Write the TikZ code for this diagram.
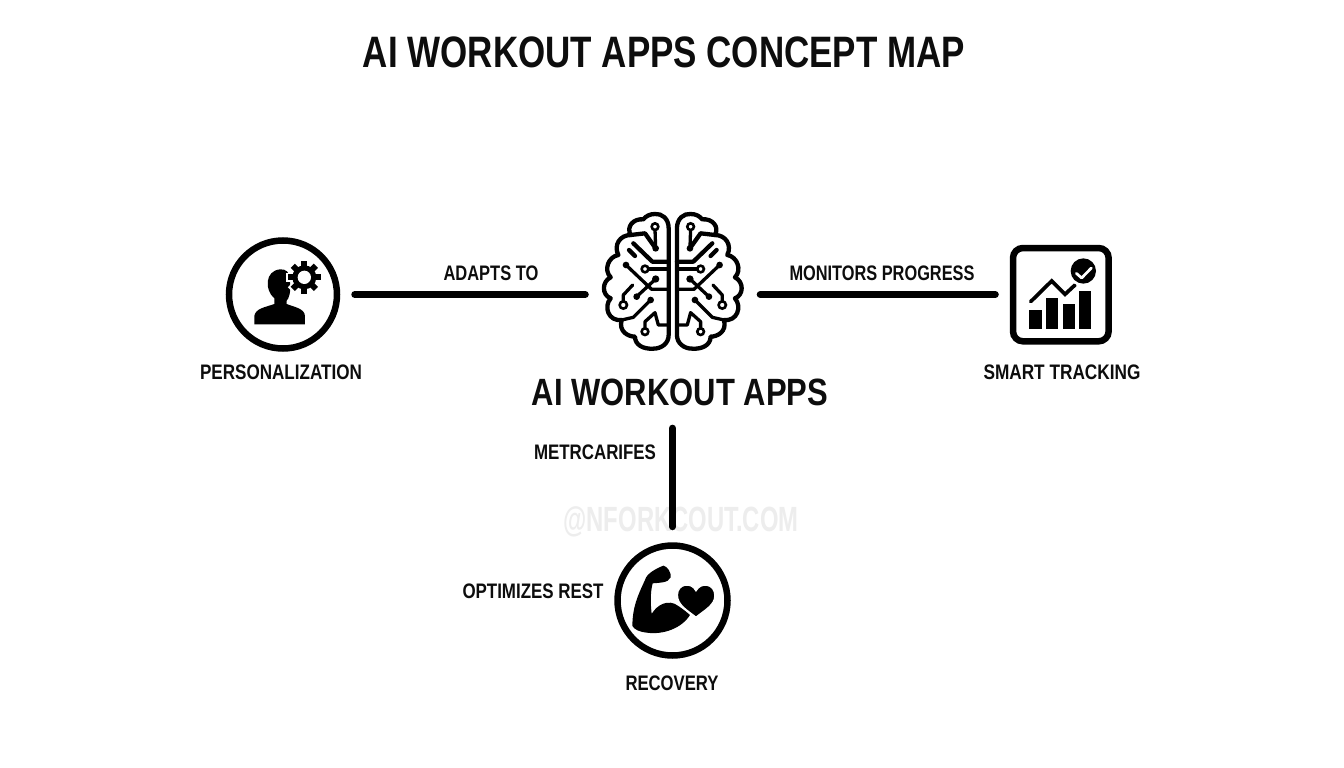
\documentclass[tikz,border=0pt]{standalone}
\usepackage{fontspec}
\setmainfont{Liberation Sans}[BoldFont={Liberation Sans Bold}]
\usepackage{graphicx}
\newcommand{\lbl}[3]{\resizebox{#1pt}{\height}{\fontsize{#2pt}{#2pt}\selectfont\bfseries #3}}
\tikzset{
  txt/.style={inner sep=0pt,text=black!95},
  icon/.style={inner sep=0pt,minimum width=#1,minimum height=#1},
  ring/.style={circle,draw=black,line width=6.5pt,inner sep=0pt,minimum size=#1},
  link/.style={draw=black,line width=7pt,line cap=round},
  trace/.style={draw=black,line width=4.3pt,line cap=round,line join=round},
  trfine/.style={draw=black,line width=3.3pt,line cap=round,line join=round},
  od/.style={draw=black,fill=white,line width=2.6pt},
}
\newcommand{\brainhalf}{%
  \draw[trace] (236,85) .. controls (236,55) and (215,40) .. (195,42)
    .. controls (180,42) and (168,48) .. (160,58)
    .. controls (130,55) and (108,80) .. (122,105)
    .. controls (90,105) and (70,135) .. (85,165)
    .. controls (55,170) and (40,210) .. (62,232)
    .. controls (35,245) and (35,285) .. (62,295)
    .. controls (40,320) and (55,365) .. (95,360)
    .. controls (85,395) and (115,410) .. (135,410)
    .. controls (135,435) and (160,448) .. (190,446)
    .. controls (215,446) and (236,430) .. (236,405) -- cycle;
  \draw[trace] (122,105) -- (165,100) -- (197,145);
  \draw[trace] (130,130) -- (187,185) -- (236,185);
  \draw[trace] (117,150) -- (135,168);
  \draw[trfine] (197,145) -- (195,88);
  \draw[od] (195,80) circle (10);
  \fill (197,145) circle (10);
  \draw[trfine] (165,207) -- (236,207);
  \draw[od] (165,207) circle (10);
  \draw[trfine] (108,195) -- (185,268) -- (236,268);
  \fill (108,195) circle (10);
  \draw[trfine] (197,237) -- (140,290);
  \fill (197,237) circle (11);
  \fill (140,290) circle (10);
  \draw[trfine] (128,255) -- (100,285) -- (100,308);
  \draw[od] (100,315) circle (11);
  \draw[trfine] (182,300) -- (130,352) -- (95,360);
  \fill (182,300) circle (10);
  \draw[trfine] (165,388) -- (165,365) -- (195,338) -- (205,375) -- (236,375);
  \draw[od] (165,395) circle (10);
}
\begin{document}
\begin{tikzpicture}[x=1pt,y=-1pt]
\useasboundingbox (0,0) rectangle (1344,768);
\fill[white] (0,0) rectangle (1344,768);

% watermark under the connector
\node[txt,text=black!7] (wm) at (681,522) {\lbl{235}{35}{@NFORKCOUT.COM}};

\node[txt] (title) at (664,52) {\lbl{602}{44}{AI WORKOUT APPS CONCEPT MAP}};
\node[txt] (main) at (680,392) {\lbl{296}{38}{AI WORKOUT APPS}};

\node[ring=108pt] (pers) at (283,294.5) {};
\node[icon=136pt] (brain) at (673,281.5) {};
\node[icon=100pt] (track) at (1061,294.5) {};
\node[ring=110pt] (recov) at (672.5,600.5) {};

\node[txt] (lpers) at (281,372) {\lbl{162}{21}{PERSONALIZATION}};
\node[txt] (ltrack) at (1062,372) {\lbl{157}{21}{SMART TRACKING}};
\node[txt] (lrecov) at (672,683) {\lbl{93}{21}{RECOVERY}};
\node[txt] (ladapts) at (491,273) {\lbl{95}{21}{ADAPTS TO}};
\node[txt] (lmon) at (882,273) {\lbl{185}{21}{MONITORS PROGRESS}};
\node[txt] (lmet) at (595,452) {\lbl{122}{21}{METRCARIFES}};
\node[txt] (lopt) at (533,591) {\lbl{141}{21}{OPTIMIZES REST}};

% connectors
\draw[link,shorten <=14.5pt,shorten >=19.5pt] (pers.east) -- (pers.east -| brain.west);
\draw[link,shorten <=19pt,shorten >=15.5pt] (brain.east |- track.west) -- (track.west);
\draw[link,shorten <=22.5pt,shorten >=15.5pt] (recov.north |- main.south) -- (recov.north);

% brain
\begin{scope}[shift={(590,200)},x=0.3333pt,y=-0.3333pt]
  \brainhalf
\end{scope}
\begin{scope}[shift={(755.6,200)},x=-0.3333pt,y=-0.3333pt]
  \brainhalf
\end{scope}

% person with gear
\begin{scope}[shift={(215,230)},x=0.3333pt,y=-0.3333pt]
  \fill (118,283) -- (118,258) .. controls (122,235) and (150,232) .. (178,222)
    -- (178,205) .. controls (148,180) and (150,122) .. (195,118)
    .. controls (212,117) and (225,125) .. (225,150)
    .. controls (228,190) and (222,205) .. (215,212) -- (215,222)
    .. controls (240,232) and (268,235) .. (270,258) -- (270,283) -- cycle;
  \fill[white] (268,142) circle (44);
  \foreach \a in {0,45,...,315}
    \fill[white,rotate around={\a:(268,142)}] (254,86) rectangle (282,112);
  \fill (268,142) circle (36);
  \foreach \a in {0,45,...,315}
    \fill[rotate around={\a:(268,142)}] (259,93) rectangle (277,112);
  \fill[white] (268,142) circle (20);
\end{scope}

% chart
\begin{scope}[shift={(1000,235)},x=0.3333pt,y=-0.3333pt]
  \draw[black,line width=6.5pt,rounded corners=10pt] (39,39) rectangle (326,319);
  \fill (88,226) rectangle (125,282);
  \fill (138,190) rectangle (175,282);
  \fill (188,208) rectangle (225,282);
  \fill (238,168) rectangle (273,282);
  \draw[black,line width=3.7pt,line cap=round,line join=miter] (92,200) -- (155,138) -- (195,178) -- (225,150);
  \fill[white] (250,108) circle (46);
  \fill (250,108) circle (38);
  \draw[white,line width=2.7pt,line cap=round,line join=round] (229,115) -- (245,129) -- (274,99);
\end{scope}

% arm and heart
\begin{scope}[shift={(550,500)},x=0.3333pt,y=-0.3333pt]
  \fill (247,378) .. controls (248,320) and (262,290) .. (285,240)
    .. controls (290,220) and (320,205) .. (340,197)
    .. controls (352,198) and (365,220) .. (362,232)
    .. controls (355,250) and (325,248) .. (308,250)
    .. controls (300,280) and (302,315) .. (305,342)
    .. controls (320,315) and (355,295) .. (385,318)
    .. controls (400,328) and (412,338) .. (420,345)
    .. controls (395,385) and (340,405) .. (290,398)
    .. controls (270,396) and (255,390) .. (247,378) -- cycle;
  \filldraw[draw=white,line width=1.5pt] (438,352) .. controls (410,330) and (382,315) .. (382,285)
    .. controls (382,250) and (425,245) .. (438,272)
    .. controls (452,245) and (495,250) .. (495,287)
    .. controls (495,315) and (465,330) .. (438,352) -- cycle;
\end{scope}
\end{tikzpicture}
\end{document}
